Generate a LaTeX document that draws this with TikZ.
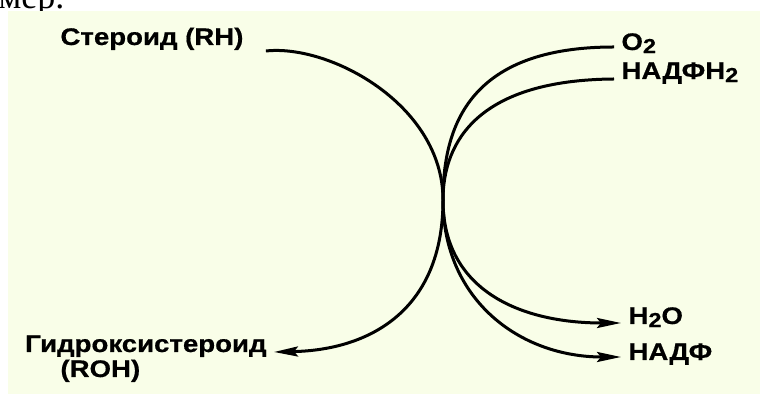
\documentclass[tikz,border=0pt]{standalone}
\usepackage{fontspec}
\setmainfont{Liberation Serif}
\newfontfamily\labelfont[FakeStretch=1.15, BoldFeatures={FakeStretch=1.15, FakeBold=0.6}]{Liberation Sans}
\usetikzlibrary{arrows.meta}
\definecolor{paper}{RGB}{249,254,232}
\newcommand{\lowidx}[1]{\raisebox{-0.25ex}{\scalebox{0.85}{#1}}}

\begin{document}
\begin{tikzpicture}[x=0.5pt, y=-0.5pt, line width=1.5pt]
  \tikzset{chem text/.style={font={\labelfont\bfseries\fontsize{12}{14}\selectfont}, inner xsep=3pt, inner ysep=1pt},
           flow/.style={-{Stealth[length=12pt,width=5pt,inset=2pt]}}}

  % paper background
  \useasboundingbox (0,0) rectangle (760,394);
  \fill[paper] (8,11) rectangle (760,394);

  % cut-off line of the page above
  \begin{scope}
    \clip (0,0) rectangle (760,11);
    \node[font=\fontsize{18}{20}\selectfont, anchor=base west, inner sep=0pt] (pagetext) at (-3,9) {мер.};
  \end{scope}

  % labels
  \node[chem text, anchor=base west] (steroid) at (53,45) {Стероид (RH)};
  \node[chem text, anchor=base east] (hydroxy) at (274,352) {Гидроксистероид};
  \node[chem text, anchor=base west] (roh) at (53,377) {(ROH)};
  \node[chem text, anchor=base west] (o2) at (614,50) {O\lowidx{2}};
  \node[chem text, anchor=base west] (nadfh2) at (614,79) {НАДФН\lowidx{2}};
  \node[chem text, anchor=base west] (h2o) at (621,324) {H\lowidx{2}O};
  \node[chem text, anchor=base west] (nadf) at (621,360) {НАДФ};

  \coordinate (waist) at (443,200);

  % steroid -> hydroxysteroid
  \draw[flow] ([shift={(7.5pt,-3pt)}]steroid.base east) .. controls (330,44) and (443,105) .. (waist)
        .. controls (443,310) and (370,350) .. (hydroxy.base east);

  % O2 / NADPH2 in, H2O / NADP out
  \draw[flow] ([yshift=1.5pt]o2.base west) .. controls (470,47) and (443,125) .. (waist)
        .. controls (443,290) and (520,323) .. ([yshift=0.5pt]h2o.base west);
  \draw[flow] (nadfh2.base west) .. controls (480,80) and (443,140) .. (waist)
        .. controls (443,300) and (520,357) .. ([yshift=1.5pt]nadf.base west);
\end{tikzpicture}
\end{document}
